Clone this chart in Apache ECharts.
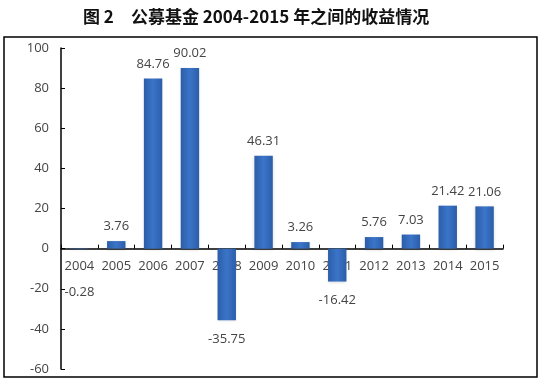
<!DOCTYPE html>
<html><head><meta charset="utf-8">
<script src="https://cdn.jsdelivr.net/npm/echarts@6/dist/echarts.min.js"></script>
<style>html,body{margin:0;padding:0;background:#fff}#c{width:541px;height:382px}</style>
</head><body><div id="c"></div>
<script>
const titleText = '图 2　公募基金 2004-2015 年之间的收益情况';
const years = ['2004','2005','2006','2007','2008','2009','2010','2011','2012','2013','2014','2015'];
const returns = [-0.28, 3.76, 84.76, 90.02, -35.75, 46.31, 3.26, -16.42, 5.76, 7.03, 21.42, 21.06];
const yTicks = [-60, -40, -20, 0, 20, 40, 60, 80, 100];

const chart = echarts.init(document.getElementById('c'));
const barColor = new echarts.graphic.LinearGradient(0, 0, 1, 0, [
  {offset: 0, color: '#2b5ea9'},
  {offset: 0.5, color: '#3b74c8'},
  {offset: 1, color: '#2b5ea9'}
]);
const data = returns.map((v, i) => {
  const item = {value: v};
  if (v < 0) {
    item.label = {position: 'bottom', distance: 12};
    if (i === 0) item.label.offset = [0, 25];
  }
  return item;
});
const catLabelData = years.map(() => 0);
chart.setOption({
  animation: false,
  backgroundColor: '#fff',
  title: {
    text: titleText, left: 78, top: 3,
    textStyle: {fontFamily: 'Noto Sans CJK SC', fontWeight: 'bold', fontSize: 17, color: '#111'}
  },
  graphic: [{
    type: 'rect', shape: {x: 4, y: 37, width: 533, height: 340},
    style: {fill: 'none', stroke: '#000', lineWidth: 1.5}, z: -1
  }],
  grid: {left: 61, right: 38, top: 48, bottom: 13, containLabel: false, outerBoundsMode: 'none'},
  xAxis: {
    type: 'category', data: years,
    axisLine: {onZero: true, lineStyle: {color: '#000', width: 1.5}},
    axisTick: {show: true, inside: true, length: 4, alignWithLabel: false, lineStyle: {color: '#000'}},
    axisLabel: {show: false}
  },
  yAxis: {
    type: 'value', min: yTicks[0], max: yTicks[yTicks.length - 1], interval: 20,
    splitLine: {show: false},
    axisLine: {show: true, lineStyle: {color: '#000', width: 1.5}},
    axisTick: {show: true, inside: true, length: 4, lineStyle: {color: '#000'}},
    axisLabel: {color: '#444', fontSize: 13, fontFamily: 'Open Sans', margin: 12}
  },
  series: [{
    type: 'bar', data: catLabelData, barWidth: '50%', barGap: '-100%', z: 1,
    itemStyle: {color: 'rgba(0,0,0,0)'}, silent: true,
    label: {show: true, position: 'bottom', distance: 11, color: '#444', fontSize: 13, fontFamily: 'Open Sans',
      formatter: p => years[p.dataIndex]}
  }, {
    type: 'bar', data: data, barWidth: '50%', barGap: '-100%', z: 3,
    itemStyle: {color: barColor, shadowColor: 'rgba(0,0,0,0.15)', shadowBlur: 3, shadowOffsetY: 1},
    label: {show: true, position: 'top', distance: 8, color: '#444', fontSize: 13, fontFamily: 'Open Sans'}
  }]
});
</script></body></html>
